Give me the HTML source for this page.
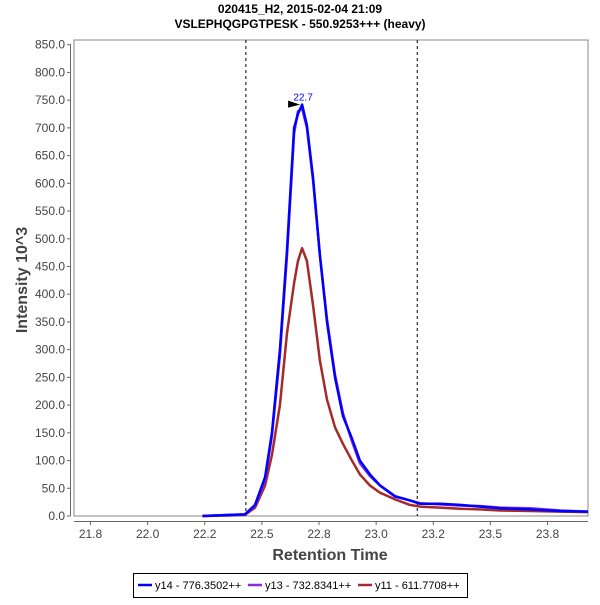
<!DOCTYPE html>
<html><head><meta charset="utf-8"><style>
body{margin:0;background:#fff;font-family:"Liberation Sans",sans-serif}
</style></head><body>
<svg id="c" width="600" height="600" xmlns="http://www.w3.org/2000/svg">
<text x="300" y="13" text-anchor="middle" font-size="12" font-weight="bold">020415_H2, 2015-02-04 21:09</text>
<text x="300" y="28" text-anchor="middle" font-size="12" font-weight="bold">VSLEPHQGPGTPESK - 550.9253+++ (heavy)</text>
<rect x="74" y="40" width="514" height="476" fill="none" stroke="#888"/>
<line x1="70.5" y1="44" x2="70.5" y2="516" stroke="#666"/>
<line x1="74" y1="521.5" x2="588" y2="521.5" stroke="#666"/>
<g id="yt"></g><g id="xt"></g><g id="series"></g>
<text x="330" y="560" text-anchor="middle" font-size="16" font-weight="bold" fill="#444">Retention Time</text>
<text transform="translate(27,280) rotate(-90)" text-anchor="middle" font-size="16" font-weight="bold" fill="#444">Intensity 10^3</text>
<g>
<rect x="133.5" y="573.5" width="334" height="24" fill="#fff" stroke="#000"/>
<g><line x1="138" y1="585" x2="152" y2="585" stroke="#0000ff" stroke-width="2.5"/><text x="155" y="589" font-size="11">y14 - 776.3502++</text></g>
<g><line x1="248" y1="585" x2="262" y2="585" stroke="#8a2be2" stroke-width="2.5"/><text x="265" y="589" font-size="11">y13 - 732.8341++</text></g>
<g><line x1="358" y1="585" x2="372" y2="585" stroke="#a52a2a" stroke-width="2.5"/><text x="375" y="589" font-size="11">y11 - 611.7708++</text></g>
</g>
</svg>
<script>
const times=[22.24,22.36,22.426,22.470,22.514,22.544,22.579,22.610,22.641,22.658,22.676,22.697,22.724,22.754,22.785,22.820,22.855,22.894,22.929,22.973,23.017,23.083,23.148,23.192,23.280,23.367,23.455,23.542,23.673,23.805,23.927];
const y14=[0,2,3,20,70,150,300,480,700,725,742,705,610,470,350,250,180,140,100,75,55,35,28,22,22,20,17,14,12,9,8];
const y13=[0,2,3,18,65,145,290,470,690,730,735,700,605,470,355,255,185,135,95,72,55,36,28,23,21,19,18,15,14,10,8];
const y11=[0,1,2,15,55,110,200,330,420,460,483,460,380,280,210,160,130,100,75,55,42,30,20,17,15,13,12,10,9,8,7];
const yTicks=[0,50,100,150,200,250,300,350,400,450,500,550,600,650,700,750,800,850];
const xTicks=[21.75,22.0,22.25,22.5,22.75,23.0,23.25,23.5,23.75];
const xTickLabels=["21.8","22.0","22.2","22.5","22.8","23.0","23.2","23.5","23.8"];
const cuts=[22.43,23.18];
const peakTime=22.676, peakVal=742, peakLabel="22.7";
const NS="http://www.w3.org/2000/svg";
const X=t=>90.5+(t-21.75)*228.5;
const Y=v=>516-v*(471.3/850);
function mk(tag,attrs,parent){const e=document.createElementNS(NS,tag);for(const k in attrs)e.setAttribute(k,attrs[k]);parent.appendChild(e);return e;}
const yt=document.getElementById('yt'),xt=document.getElementById('xt'),sg=document.getElementById('series');
yTicks.forEach(v=>{
 const l=mk('line',{x1:67,x2:70.5,y1:Y(v),y2:Y(v),stroke:'#666'},yt);
 
 
 const t=mk('text',{x:65,y:Y(v)+4,'text-anchor':'end','font-size':12,fill:'#444'},yt);
 t.textContent=v.toFixed(1);
 
 
});
xTicks.forEach((v,i)=>{
 const l=mk('line',{x1:X(v),x2:X(v),y1:521.5,y2:525,stroke:'#666'},xt);
 
 
 const t=mk('text',{x:X(v),y:538,'text-anchor':'middle','font-size':12,fill:'#444'},xt);
 t.textContent=xTickLabels[i];
 
 
});
cuts.forEach(c=>{
 const l=mk('line',{x1:X(c),x2:X(c),y1:40,y2:516,stroke:'#000','stroke-dasharray':'3,3'},sg);
 
 
});
[[y11,'#a52a2a','series-y11'],[y13,'#8a2be2','series-y13'],[y14,'#0000ff','series-y14']].forEach(([d,c,n])=>{
 const p=mk('polyline',{points:times.map((t,i)=>X(t)+','+Y(d[i])).join(' '),fill:'none',stroke:c,'stroke-width':2.5,'stroke-linejoin':'round'},sg);
 
 
});
const px=X(peakTime),py=Y(peakVal);
const m=mk('polygon',{points:`${px-14},${py-4} ${px-2},${py} ${px-14},${py+3}`,fill:'#000'},sg);


const pl=mk('text',{x:px+1,y:py-4,'text-anchor':'middle','font-size':10,fill:'#0000ff'},sg);
pl.textContent=peakLabel;


</script>
</body></html>
